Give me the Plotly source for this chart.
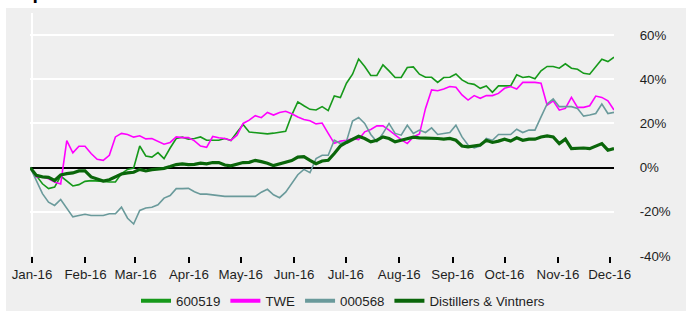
import pandas as pd
import plotly.graph_objects as go

# ---- data (percent change since start of 2016) ----
dates = pd.date_range(start="2015-12-31", end="2016-12-03 12:00", periods=97)

s_600519 = [0, -3.5, -7.3, -9.5, -8.8, -3.8, -6.2, -8.3, -7.7, -6.2,
            -5.9, -5.9, -6.2, -6.5, -6.5, -2.7, -0.8, -0.2, 9.8, 5.3,
            4.8, 6.8, 4.1, 8.9, 13.2, 13.8, 12.9, 13.2, 13.9, 12.4,
            12.3, 12.4, 13.2, 12.3, 16.0, 19.5, 16.1, 15.8, 15.6, 15.3,
            15.6, 15.9, 16.5, 23.8, 29.8, 28.0, 26.4, 26.1, 27.6, 25.8,
            32.4, 31.7, 38.2, 42.3, 49.2, 45.8, 41.7, 41.7, 46.5, 43.8,
            40.8, 40.8, 45.3, 45.6, 42.3, 40.9, 40.9, 38.6, 40.8, 40.9,
            42.4, 39.7, 38.2, 37.7, 35.9, 37.0, 34.1, 37.0, 37.0, 37.0,
            42.0, 40.8, 41.2, 40.2, 43.8, 45.8, 45.8, 45.0, 47.0, 45.0,
            44.5, 42.7, 42.3, 45.8, 49.1, 48.0, 50.0]

s_twe = [0, -4.2, -4.2, -5.0, -6.5, -7.4, 12.2, 6.7, 9.7, 9.7,
         6.4, 3.8, 3.3, 5.6, 13.9, 15.5, 15.0, 13.8, 14.4, 13.0,
         13.2, 12.0, 10.6, 11.4, 13.9, 13.6, 13.6, 12.1, 9.8, 9.2,
         14.1, 13.5, 13.2, 12.3, 14.7, 20.0, 21.5, 23.5, 22.6, 25.0,
         23.8, 25.0, 25.5, 24.4, 22.9, 21.8, 21.2, 19.8, 20.2, 15.5,
         11.0, 12.0, 12.4, 13.2, 12.7, 16.2, 17.3, 18.9, 18.9, 17.0,
         14.7, 12.7, 10.9, 13.9, 15.2, 26.8, 35.2, 34.8, 35.6, 36.7,
         36.4, 32.9, 30.6, 32.6, 31.4, 32.6, 32.6, 33.6, 35.9, 36.7,
         35.6, 38.6, 38.6, 38.6, 38.2, 28.3, 30.2, 26.1, 26.8, 31.8,
         27.3, 27.3, 28.0, 32.4, 31.8, 30.2, 26.1]

s_000568 = [0, -5.8, -11.8, -15.6, -17.1, -14.4, -18.6, -22.3, -21.7, -21.1,
            -21.7, -21.7, -21.7, -20.9, -20.9, -17.9, -22.9, -25.5, -19.4, -18.3,
            -17.9, -16.8, -13.8, -12.6, -9.5, -9.5, -9.4, -10.9, -12.0, -12.0,
            -12.3, -12.9, -13.0, -13.0, -13.0, -13.0, -13.0, -13.0, -11.1, -9.8,
            -12.3, -13.6, -11.1, -7.3, -3.2, -0.8, -2.3, 4.1, 5.6, 5.6,
            12.4, 10.9, 12.0, 21.1, 22.7, 20.0, 15.0, 11.7, 15.5, 20.0,
            15.5, 14.7, 19.2, 15.5, 17.0, 15.9, 18.0, 15.0, 15.5, 15.9,
            19.2, 13.9, 10.2, 8.9, 9.8, 13.2, 12.4, 15.0, 15.0, 15.0,
            17.4, 15.9, 17.0, 17.0, 23.0, 28.8, 31.1, 27.6, 27.6, 27.6,
            26.8, 23.3, 23.8, 24.5, 28.8, 24.5, 25.0]

s_dv = [0, -3.5, -4.2, -4.4, -5.8, -3.3, -2.7, -2.4, -1.5, -1.5,
        -4.2, -5.3, -6.1, -5.5, -4.2, -2.9, -2.4, -2.1, -0.8, -1.5,
        -0.9, -0.5, -0.3, 0.5, 1.4, 1.7, 1.4, 1.5, 2.0, 1.7,
        2.3, 2.3, 1.2, 0.8, 1.4, 2.3, 2.4, 3.3, 2.7, 2.0,
        0.9, 1.7, 2.6, 3.2, 4.8, 5.0, 3.3, 1.8, 3.0, 3.3,
        6.4, 9.8, 11.4, 12.9, 14.2, 13.2, 11.7, 12.4, 13.9, 13.2,
        11.7, 12.4, 13.2, 13.8, 13.5, 13.5, 13.5, 13.2, 12.9, 13.2,
        12.4, 9.8, 9.4, 9.8, 10.2, 12.4, 11.4, 12.0, 12.9, 12.0,
        13.5, 12.4, 12.9, 12.9, 13.9, 14.4, 13.9, 10.9, 12.9, 8.6,
        8.9, 8.9, 8.6, 9.8, 10.9, 7.9, 8.6]

series_names = ["600519", "TWE", "000568", "Distillers & Vintners"]
series_values = [s_600519, s_twe, s_000568, s_dv]

month_ticks = pd.date_range("2016-01-01", "2016-12-01", freq="MS")
month_labels = [d.strftime("%b-%y") for d in month_ticks]
y_tickvals = [-40, -20, 0, 20, 40, 60]
y_ticktext = ["-40%", "-20%", "0%", "20%", "40%", "60%"]
title_text = "Top Stocks 2016"

# ---- styling ----
colors = ["#16991a", "#ff00ff", "#6a9a9b", "#0a660a"]
widths = [1.6, 1.6, 1.6, 3.2]
BG = "#efefef"
FONT = "Liberation Sans, Arial, sans-serif"

fig = go.Figure()
for name, vals, c, w in zip(series_names, series_values, colors, widths):
    fig.add_trace(go.Scatter(x=dates, y=vals, mode="lines", name=name,
                             legendgroup=name, showlegend=False,
                             line=dict(color=c, width=w)))
# legend entries (thick sample lines, as in the reference legend)
for name, c in zip(series_names, colors):
    fig.add_trace(go.Scatter(x=[None], y=[None], mode="lines", name=name,
                             legendgroup=name, showlegend=True,
                             line=dict(color=c, width=4)))

W, H = 686, 311
L, R, T, B = 30, 72, 13, 55
pw, ph = W - L - R, H - T - B

fig.update_layout(
    width=W, height=H,
    margin=dict(l=L, r=R, t=T, b=B, pad=0, autoexpand=False),
    paper_bgcolor="white", plot_bgcolor=BG,
    font=dict(family=FONT, size=13.3, color="#1e1e1e"),
    showlegend=True,
    legend=dict(orientation="h", xref="container", x=0.5, xanchor="center",
                yref="container", y=1 - 301 / H, yanchor="middle",
                bgcolor="rgba(0,0,0,0)", font=dict(size=13.3),
                itemwidth=30, tracegroupgap=0),
    xaxis=dict(type="date",
               range=["2015-12-30 20:00", "2016-12-03 12:00"],
               tickvals=list(month_ticks), ticktext=month_labels,
               ticks="outside", ticklen=6, tickwidth=2, tickcolor="black",
               showgrid=False, zeroline=False, showline=False,
               automargin=False, tickfont=dict(size=13.3)),
    yaxis=dict(range=[-40, 70], side="right",
               tickvals=y_tickvals, ticktext=y_ticktext,
               ticks="outside", ticklen=22, tickcolor="rgba(0,0,0,0)",
               showgrid=True, gridcolor="white", gridwidth=1.5,
               zeroline=True, zerolinecolor="black", zerolinewidth=2,
               automargin=False, tickfont=dict(size=13.3)),
    shapes=[
        dict(type="rect", xref="paper", yref="paper", layer="below",
             x0=(6 - L) / pw, x1=(W + 20 - L) / pw,
             y0=-(B + 20) / ph, y1=1 + (T - 8) / ph,
             fillcolor=BG, line=dict(width=0)),
        dict(type="line", xref="x", yref="paper", layer="below",
             x0="2016-01-01", x1="2016-01-01", y0=0, y1=1,
             line=dict(color="white", width=2)),
    ],
    annotations=[
        dict(text="<b>" + title_text + "</b>", xref="paper", yref="paper",
             x=(8 - L) / pw, xanchor="left", y=1 + (T - 5) / ph, yanchor="bottom",
             showarrow=False, font=dict(size=19.5, color="black")),
    ],
)

fig.write_html("out.html", config={"displayModeBar": False},
               post_script="document.body.style.margin='0px';")
